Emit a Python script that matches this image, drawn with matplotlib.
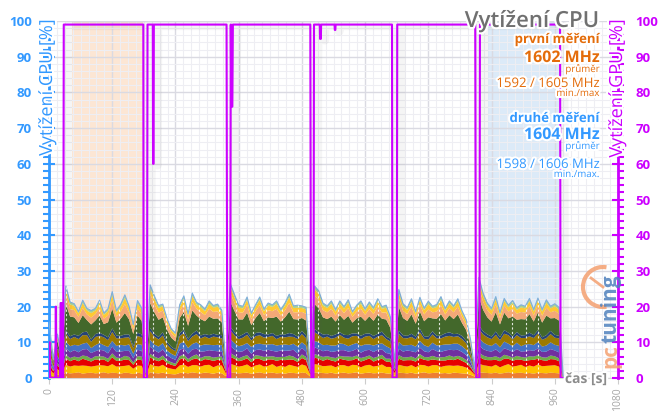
import matplotlib
matplotlib.use('Agg')
import matplotlib.pyplot as plt
import matplotlib.patheffects as pe
from matplotlib.patches import Arc
from matplotlib.lines import Line2D
from matplotlib.transforms import IdentityTransform
import numpy as np

plt.rcParams['font.family'] = ['Open Sans', 'DejaVu Sans']

# CPU samples, one every 8 s
cpu_time = np.arange(0, 1000, 8)

# per-thread CPU load [%], stacked bottom -> top
thread_01 = [1.2, 0.5, 1.0, 0.6,
             1.5, 1.3, 1.4, 1.6, 1.2, 1.4, 1.5, 1.3, 1.4, 1.6, 1.3, 1.5, 1.4, 1.2, 1.5, 1.4, 1.1, 1.5, 1.3,
             0.3,
             1.6, 1.4, 1.3, 1.5, 1.2, 1.1, 1.0, 1.4, 1.5, 1.3, 1.6, 1.4, 1.3, 1.5, 1.4, 1.2, 1.5, 1.3,
             0.5,
             1.6, 1.5, 1.3, 1.4, 1.5, 1.2, 1.4, 1.6, 1.3, 1.4, 1.5, 1.3, 1.4, 1.2, 1.5, 1.4, 1.3, 1.5, 1.4,
             0.4,
             1.6, 1.5, 1.4, 1.3, 1.5, 1.2, 1.4, 1.5, 1.3, 1.4, 1.6, 1.2, 1.4, 1.5, 1.3, 1.4, 1.5, 1.3, 1.2,
             0.6,
             1.5, 1.4, 1.3, 1.5, 1.2, 1.4, 1.6, 1.3, 1.4, 1.5, 1.3, 1.4, 1.2, 1.5, 1.4, 1.3,
             1.2, 0.9, 0.4,
             1.6, 1.5, 1.4, 1.3, 1.5, 1.2, 1.4, 1.6, 1.3, 1.4, 1.5, 1.3, 1.4, 1.2, 1.5, 1.4, 1.3, 1.5, 1.4, 1.3,
             0, 0, 0]
thread_02 = [1.6, 0.8, 1.5, 0.9,
             2.2, 1.9, 2.1, 1.8, 2.3, 2.0, 1.7, 2.1, 2.2, 1.9, 2.0, 2.4, 1.8, 2.1, 1.9, 2.2, 1.5, 2.0, 2.1,
             0.4,
             2.3, 2.0, 1.9, 2.2, 1.7, 1.5, 1.4, 2.1, 2.3, 1.8, 2.0, 2.2, 1.9, 2.1, 2.3, 1.8, 2.0, 2.2,
             0.7,
             2.4, 2.1, 1.9, 2.0, 2.3, 1.8, 2.1, 2.2, 1.9, 2.0, 2.4, 1.8, 2.1, 1.9, 2.2, 2.0, 1.8, 2.3, 2.0,
             0.5,
             2.3, 2.2, 1.9, 2.1, 2.0, 1.8, 2.2, 2.1, 1.9, 2.3, 2.0, 1.8, 2.1, 2.2, 1.9, 2.0, 2.3, 1.8, 1.9,
             0.8,
             2.2, 2.0, 1.9, 2.1, 1.8, 2.3, 2.0, 1.9, 2.2, 2.1, 1.8, 2.0, 2.3, 1.9, 2.1, 2.0,
             1.7, 1.2, 0.5,
             2.4, 2.1, 2.0, 1.9, 2.2, 1.8, 2.1, 2.3, 1.9, 2.0, 2.2, 1.8, 2.1, 2.0, 2.3, 1.9, 2.1, 2.0, 2.2, 1.9,
             0, 0, 0]
thread_03 = [1.3, 0.6, 1.1, 0.7,
             1.8, 1.5, 1.7, 1.3, 1.9, 1.6, 1.4, 1.8, 1.5, 1.7, 1.2, 1.9, 1.6, 1.5, 1.8, 1.4, 1.1, 1.7, 1.6,
             0.2,
             1.9, 1.7, 1.5, 1.6, 1.3, 1.1, 1.0, 1.7, 1.8, 1.4, 1.6, 1.9, 1.5, 1.7, 1.4, 1.8, 1.6, 1.5,
             0.5,
             1.9, 1.8, 1.5, 1.6, 1.7, 1.4, 1.9, 1.5, 1.6, 1.8, 1.3, 1.7, 1.6, 1.9, 1.5, 1.7, 1.4, 1.8, 1.6,
             0.3,
             1.8, 1.7, 1.5, 1.9, 1.4, 1.6, 1.8, 1.5, 1.7, 1.3, 1.9, 1.6, 1.5, 1.8, 1.4, 1.7, 1.6, 1.5, 1.4,
             0.6,
             1.7, 1.5, 1.8, 1.4, 1.6, 1.9, 1.5, 1.7, 1.6, 1.4, 1.8, 1.5, 1.7, 1.6, 1.9, 1.5,
             1.3, 0.9, 0.3,
             2.0, 1.7, 1.6, 1.8, 1.4, 1.7, 1.9, 1.5, 1.6, 1.8, 1.4, 1.7, 1.5, 1.9, 1.6, 1.7, 1.4, 1.8, 1.6, 1.5,
             0, 0, 0]
thread_04 = [0.7, 0.3, 0.6, 0.3,
             1.0, 0.9, 0.8, 1.0, 0.9, 1.1, 0.8, 0.9, 1.0, 0.8, 0.9, 1.1, 0.9, 0.8, 1.0, 0.9, 0.6, 0.9, 1.0,
             0.1,
             1.0, 0.9, 0.8, 1.0, 0.8, 0.7, 0.6, 0.9, 1.0, 0.8, 0.9, 1.1, 0.9, 0.8, 1.0, 0.9, 0.8, 1.0,
             0.2,
             1.1, 0.9, 0.8, 1.0, 0.9, 0.8, 1.0, 0.9, 1.1, 0.8, 0.9, 1.0, 0.8, 0.9, 1.1, 0.9, 0.8, 1.0, 0.9,
             0.1,
             1.0, 0.9, 1.1, 0.8, 0.9, 1.0, 0.8, 0.9, 1.1, 0.9, 0.8, 1.0, 0.9, 0.8, 1.0, 0.9, 1.1, 0.8, 0.9,
             0.2,
             1.0, 0.9, 0.8, 1.0, 0.9, 1.1, 0.8, 0.9, 1.0, 0.8, 0.9, 1.0, 1.1, 0.9, 0.8, 1.0,
             0.8, 0.5, 0.1,
             1.1, 1.0, 0.9, 0.8, 1.0, 0.9, 1.1, 0.8, 0.9, 1.0, 0.8, 0.9, 1.1, 0.9, 1.0, 0.8, 0.9, 1.0, 0.9, 0.8,
             0, 0, 0]
thread_05 = [1.4, 0.4, 1.0, 0.5,
             1.9, 1.6, 1.8, 1.5, 1.7, 2.0, 1.6, 1.4, 1.8, 1.7, 1.5, 1.9, 1.6, 1.8, 1.4, 1.7, 1.2, 1.8, 1.6,
             0.1,
             2.0, 1.8, 1.6, 1.7, 1.4, 1.2, 1.1, 1.8, 1.7, 1.5, 1.9, 1.6, 1.8, 1.4, 1.7, 1.9, 1.6, 1.5,
             0.4,
             2.0, 1.7, 1.8, 1.5, 1.9, 1.6, 1.4, 1.8, 1.7, 1.9, 1.5, 1.6, 1.8, 1.7, 1.4, 1.9, 1.6, 1.8, 1.5,
             0.2,
             1.9, 1.8, 1.6, 1.7, 1.5, 1.9, 1.6, 1.8, 1.4, 1.7, 1.9, 1.5, 1.8, 1.6, 1.7, 1.9, 1.5, 1.6, 1.4,
             0.4,
             1.8, 1.6, 1.9, 1.5, 1.7, 1.8, 1.6, 1.4, 1.9, 1.7, 1.5, 1.8, 1.6, 1.9, 1.7, 1.5,
             1.4, 1.0, 0.2,
             2.1, 1.8, 1.7, 1.6, 1.9, 1.5, 1.8, 1.7, 1.6, 1.9, 1.5, 1.8, 1.7, 1.6, 1.9, 1.5, 1.7, 1.8, 1.6, 1.7,
             0, 0, 0]
thread_06 = [1.5, 0.5, 1.1, 0.5,
             1.8, 1.7, 1.5, 1.9, 1.6, 1.8, 1.4, 1.7, 1.9, 1.5, 1.8, 1.6, 1.7, 1.9, 1.5, 1.8, 1.3, 1.6, 1.7,
             0.1,
             1.9, 1.6, 1.7, 1.8, 1.3, 1.2, 1.1, 1.7, 1.9, 1.6, 1.5, 1.8, 1.7, 1.9, 1.5, 1.6, 1.8, 1.7,
             0.3,
             1.9, 1.8, 1.6, 1.7, 1.5, 1.9, 1.7, 1.6, 1.8, 1.5, 1.9, 1.7, 1.6, 1.8, 1.5, 1.7, 1.9, 1.6, 1.7,
             0.2,
             1.8, 1.9, 1.7, 1.5, 1.8, 1.6, 1.9, 1.7, 1.5, 1.8, 1.6, 1.9, 1.7, 1.5, 1.8, 1.6, 1.7, 1.9, 1.5,
             0.3,
             1.9, 1.7, 1.5, 1.8, 1.6, 1.9, 1.7, 1.5, 1.8, 1.6, 1.9, 1.7, 1.5, 1.8, 1.7, 1.6,
             1.5, 1.1, 0.2,
             2.0, 1.9, 1.7, 1.6, 1.8, 1.5, 1.9, 1.7, 1.6, 1.8, 1.5, 1.9, 1.7, 1.6, 1.8, 1.5, 1.7, 1.9, 1.6, 1.8,
             0, 0, 0]
thread_07 = [2.5, 0.9, 2.0, 1.0,
             2.3, 2.0, 2.2, 1.8, 2.4, 2.1, 1.7, 2.3, 2.0, 2.2, 1.9, 2.5, 2.1, 1.8, 2.2, 2.0, 1.5, 2.3, 2.1,
             0.1,
             2.4, 2.2, 2.0, 2.1, 1.7, 1.4, 1.3, 2.2, 2.4, 1.9, 2.1, 2.3, 2.0, 2.2, 1.8, 2.4, 2.1, 1.9,
             0.4,
             2.5, 2.2, 2.0, 2.1, 2.3, 1.8, 2.2, 2.4, 1.9, 2.1, 2.3, 1.8, 2.2, 2.0, 2.4, 1.9, 2.1, 2.3, 2.0,
             0.3,
             2.4, 2.1, 2.0, 2.3, 1.9, 2.2, 2.4, 1.8, 2.1, 2.3, 2.0, 1.9, 2.2, 2.4, 1.8, 2.1, 2.3, 2.0, 1.9,
             0.5,
             2.3, 2.1, 1.9, 2.2, 2.0, 2.4, 1.8, 2.1, 2.3, 2.0, 1.9, 2.2, 2.4, 1.9, 2.1, 2.0,
             1.8, 1.2, 0.2,
             2.5, 2.2, 2.1, 1.9, 2.3, 2.0, 2.2, 2.4, 1.9, 2.1, 2.3, 1.8, 2.2, 2.0, 2.4, 1.9, 2.1, 2.3, 2.0, 2.1,
             0, 0, 0]
thread_08 = [0.8, 0.3, 0.6, 0.3,
             0.9, 0.8, 0.7, 0.9, 0.8, 1.0, 0.7, 0.8, 0.9, 0.7, 0.8, 1.0, 0.8, 0.7, 0.9, 0.8, 0.6, 0.9, 0.8,
             0.05,
             0.9, 0.8, 0.7, 0.9, 0.7, 0.6, 0.5, 0.8, 0.9, 0.7, 0.8, 1.0, 0.8, 0.7, 0.9, 0.8, 0.7, 0.9,
             0.1,
             1.0, 0.8, 0.7, 0.9, 0.8, 0.7, 0.9, 0.8, 1.0, 0.7, 0.8, 0.9, 0.7, 0.8, 1.0, 0.8, 0.7, 0.9, 0.8,
             0.1,
             0.9, 0.8, 1.0, 0.7, 0.8, 0.9, 0.7, 0.8, 1.0, 0.8, 0.7, 0.9, 0.8, 0.7, 0.9, 0.8, 1.0, 0.7, 0.8,
             0.1,
             0.9, 0.8, 0.7, 0.9, 0.8, 1.0, 0.7, 0.8, 0.9, 0.7, 0.8, 0.9, 1.0, 0.8, 0.7, 0.9,
             0.7, 0.5, 0.05,
             1.0, 0.9, 0.8, 0.7, 0.9, 0.8, 1.0, 0.7, 0.8, 0.9, 0.7, 0.8, 1.0, 0.8, 0.9, 0.7, 0.8, 0.9, 0.8, 0.7,
             0, 0, 0]
thread_09 = [2.0, 0.5, 1.5, 0.6,
             7.5, 5.5, 4.8, 3.6, 4.8, 3.2, 4.2, 3.8, 4.8, 3.0, 4.2, 5.5, 3.6, 4.8, 6.0, 4.2, 3.4, 4.8, 3.8,
             0.1,
             7.0, 6.0, 4.8, 4.2, 3.5, 2.5, 2.2, 4.2, 5.0, 3.6, 6.5, 4.2, 4.6, 3.6, 5.2, 4.2, 4.6, 3.6,
             0.3,
             7.0, 6.0, 4.8, 4.2, 5.4, 3.6, 4.2, 5.4, 3.6, 4.8, 4.2, 5.4, 3.6, 4.8, 6.0, 4.2, 4.8, 3.6, 4.2,
             0.2,
             7.0, 6.6, 4.8, 4.2, 5.4, 3.6, 4.8, 4.2, 5.4, 3.0, 4.2, 5.4, 3.6, 4.8, 4.2, 5.4, 3.6, 4.8, 3.0,
             0.5,
             6.6, 4.8, 4.2, 5.4, 3.6, 4.8, 4.2, 5.4, 3.6, 4.8, 6.0, 3.6, 4.8, 4.2, 5.4, 3.6,
             3.0, 1.8, 0.3,
             8.0, 6.0, 4.8, 4.2, 5.4, 3.6, 4.9, 4.0, 5.6, 3.4, 4.6, 4.4, 5.2, 3.8, 5.0, 4.1, 5.5, 3.5, 4.7, 4.3,
             0, 0, 0]
thread_10 = [1.5, 0.3, 1.0, 0.4,
             2.4, 2.1, 2.0, 1.7, 2.0, 1.6, 1.9, 1.8, 2.1, 1.5, 1.9, 2.3, 1.7, 2.0, 2.5, 1.9, 1.3, 2.0, 1.8,
             0.05,
             2.5, 2.3, 2.0, 1.9, 1.6, 1.3, 1.2, 1.9, 2.2, 1.7, 2.4, 1.9, 2.0, 1.7, 2.2, 1.9, 2.0, 1.7,
             0.2,
             2.5, 2.3, 2.0, 1.9, 2.2, 1.7, 1.9, 2.2, 1.7, 2.0, 1.9, 2.2, 1.7, 2.0, 2.4, 1.9, 2.0, 1.7, 1.9,
             0.1,
             2.5, 2.4, 2.0, 1.9, 2.2, 1.7, 2.0, 1.9, 2.2, 1.6, 1.9, 2.2, 1.7, 2.0, 1.9, 2.2, 1.7, 2.0, 1.6,
             0.3,
             2.4, 2.0, 1.9, 2.2, 1.7, 2.0, 1.9, 2.2, 1.7, 2.0, 2.4, 1.7, 2.0, 1.9, 2.2, 1.7,
             1.4, 0.9, 0.2,
             2.7, 2.3, 2.0, 1.9, 2.2, 1.7, 2.0, 1.9, 2.2, 1.7, 2.0, 1.9, 2.2, 1.7, 2.0, 1.9, 2.2, 1.7, 2.0, 1.9,
             0, 0, 0]
thread_11 = [0.8, 0.2, 0.6, 0.2,
             1.6, 1.3, 1.2, 1.0, 1.4, 1.1, 1.3, 1.0, 1.4, 1.1, 1.2, 1.6, 1.1, 1.3, 1.7, 1.2, 0.9, 1.4, 1.2,
             0.05,
             1.7, 1.5, 1.3, 1.2, 1.0, 0.8, 0.8, 1.2, 1.5, 1.1, 1.6, 1.2, 1.3, 1.1, 1.4, 1.2, 1.3, 1.1,
             0.1,
             1.7, 1.5, 1.3, 1.2, 1.4, 1.1, 1.2, 1.5, 1.1, 1.3, 1.2, 1.4, 1.1, 1.3, 1.6, 1.2, 1.3, 1.1, 1.2,
             0.05,
             1.7, 1.6, 1.3, 1.2, 1.4, 1.1, 1.3, 1.2, 1.5, 1.0, 1.2, 1.4, 1.1, 1.3, 1.2, 1.4, 1.1, 1.3, 1.0,
             0.2,
             1.6, 1.3, 1.2, 1.4, 1.1, 1.3, 1.2, 1.5, 1.1, 1.3, 1.6, 1.1, 1.3, 1.2, 1.4, 1.1,
             1.0, 0.6, 0.1,
             1.8, 1.5, 1.3, 1.2, 1.4, 1.1, 1.3, 1.2, 1.5, 1.1, 1.3, 1.2, 1.4, 1.1, 1.3, 1.2, 1.4, 1.1, 1.3, 1.2,
             0, 0, 0]
thread_12 = [0.4, 0.1, 0.3, 0.1,
             0.9, 0.7, 0.6, 0.5, 0.8, 0.6, 0.7, 0.6, 0.8, 0.5, 0.7, 0.9, 0.6, 0.7, 0.9, 0.6, 0.5, 0.8, 0.6,
             0.02,
             0.9, 0.8, 0.7, 0.6, 0.5, 0.4, 0.4, 0.6, 0.8, 0.6, 0.9, 0.6, 0.7, 0.6, 0.8, 0.6, 0.7, 0.6,
             0.05,
             0.9, 0.8, 0.7, 0.6, 0.8, 0.6, 0.6, 0.8, 0.6, 0.7, 0.6, 0.8, 0.6, 0.7, 0.9, 0.6, 0.7, 0.6, 0.6,
             0.02,
             0.9, 0.9, 0.7, 0.6, 0.8, 0.6, 0.7, 0.6, 0.8, 0.5, 0.6, 0.8, 0.6, 0.7, 0.6, 0.8, 0.6, 0.7, 0.5,
             0.1,
             0.9, 0.7, 0.6, 0.8, 0.6, 0.7, 0.6, 0.8, 0.6, 0.7, 0.9, 0.6, 0.7, 0.6, 0.8, 0.6,
             0.5, 0.3, 0.05,
             1.0, 0.8, 0.7, 0.6, 0.8, 0.6, 0.7, 0.6, 0.8, 0.6, 0.7, 0.6, 0.8, 0.6, 0.7, 0.6, 0.8, 0.6, 0.7, 0.6,
             0, 0, 0]

threads = [thread_01, thread_02, thread_03, thread_04, thread_05, thread_06,
           thread_07, thread_08, thread_09, thread_10, thread_11, thread_12]
thread_colors = ['#ED7D31', '#FFC000', '#E60000', '#70AD47', '#7030A0', '#4472C4',
                 '#9C7A00', '#264478', '#43682B', '#F4A877', '#FFC933', '#A9D18E']

# moments where the logger dropped a sample (white dashes in the stack)
gap_times = [32, 95, 133, 165, 197, 223, 254, 285, 323, 355, 387, 412, 443, 473,
             511, 549, 587, 625, 701, 740, 793, 878, 906, 928]

# GPU load [%]
gpu_time = [0, 1, 2, 12, 13, 14, 21, 22, 24, 25, 27, 28, 179, 179.5, 180, 186, 187,
            197, 197.5, 198.5, 199, 337, 338, 339, 344, 345, 346, 348, 349, 496, 497,
            498, 502, 503, 514, 514.5, 516, 516.5, 542, 542.5, 543.5, 544, 651, 652,
            660, 661, 809, 810, 811, 817, 818, 970, 971, 975]
gpu_load = [0, 10, 0, 0, 20, 0, 0, 21, 21, 0, 0, 99, 99, 18, 0, 0, 99,
            99, 60, 60, 99, 99, 27, 0, 0, 99, 76, 76, 99, 99, 22,
            0, 0, 99, 99, 95, 95, 99, 99, 97.5, 97.5, 99, 99, 0,
            0, 99, 99, 25, 0, 0, 99, 99, 0, 0]

first_run = (44, 178)
second_run = (833, 968)

for s in threads:
    assert len(s) == len(cpu_time), len(s)

CPU_BLUE = '#3399FF'
GPU_MAG = '#CC00FF'
ORANGE = '#E46C0A'
glow = [pe.withStroke(linewidth=3, foreground='white')]

fig = plt.figure(figsize=(6.59, 4.18), dpi=100)
W, H = 659, 418
ax = fig.add_axes([49 / W, 40 / H, 569 / W, 357 / H])
ax.set_axisbelow(True)

ax.axvspan(*first_run, color='#FCE6D4', lw=0, zorder=0.2)
ax.axvspan(*second_run, color='#DCEAF8', lw=0, zorder=0.2)

ax.stackplot(cpu_time, *threads, colors=thread_colors, linewidth=0, zorder=2)
total = np.sum(np.array(threads), axis=0)
ax.plot(cpu_time, total, color='#7FAEDC', lw=0.8, zorder=3)
gap_tops = np.interp(gap_times, cpu_time, total)
ax.vlines(gap_times, 0, gap_tops, colors='white', linestyles=(0, (2, 2)), lw=0.8,
          alpha=0.85, zorder=3)

ax.set_xlim(0, 1080)
ax.set_ylim(0, 100)
ax.set_xticks(np.arange(0, 1081, 120))
ax.set_xticks(np.arange(0, 1081, 15), minor=True)
ax.set_yticks(np.arange(0, 101, 10))
ax.set_yticks(np.arange(0, 101, 2), minor=True)
ax.grid(which='major', color='#DADAE2', lw=1.0)
ax.grid(which='minor', color='#EEEEF3', lw=0.8)

for side in ['top', 'right']:
    ax.spines[side].set_visible(False)
ax.spines['bottom'].set_color('#D5D5D5')
ax.spines['left'].set_color(CPU_BLUE)
ax.spines['left'].set_linewidth(2)

ax.tick_params(axis='x', which='major', length=4, color='#CCCCCC', labelcolor='#A6A6A6',
               labelsize=7.5, labelrotation=90, pad=3)
ax.tick_params(axis='x', which='minor', length=0)
ax.tick_params(axis='y', which='major', direction='inout', length=9, width=1.5,
               colors=CPU_BLUE, labelsize=9.5, pad=8)
ax.tick_params(axis='y', which='minor', direction='out', length=4.5, width=1.5, colors=CPU_BLUE)
for lbl in ax.get_yticklabels():
    lbl.set_fontweight('bold')

ax2 = ax.twinx()
ax2.set_ylim(0, 100)
ax2.plot(gpu_time, gpu_load, color=GPU_MAG, lw=1.5, zorder=4,
         path_effects=[pe.SimpleLineShadow(offset=(3, -1), shadow_color='#555555', alpha=0.06, linewidth=6),
                       pe.Normal()])
for side in ['top', 'left', 'bottom']:
    ax2.spines[side].set_visible(False)
ax2.spines['right'].set_color(GPU_MAG)
ax2.spines['right'].set_linewidth(2)
ax2.set_yticks(np.arange(0, 101, 10))
ax2.set_yticks(np.arange(0, 101, 2), minor=True)
ax2.tick_params(axis='y', which='major', direction='inout', length=9, width=1.5,
                colors=GPU_MAG, labelsize=9.5, pad=8)
ax2.tick_params(axis='y', which='minor', direction='out', length=4.5, width=1.5, colors=GPU_MAG)
for lbl in ax2.get_yticklabels():
    lbl.set_fontweight('bold')

# axis titles sit right on the spines
fig.text(47 / W, 1 - 20 / H, 'Vytížení CPU [%]', rotation=90, ha='center', va='top',
         fontsize=13, color=CPU_BLUE, path_effects=glow)
fig.text(617 / W, 1 - 20 / H, 'Vytížení GPU [%]', rotation=90, ha='center', va='top',
         fontsize=13, color=GPU_MAG, path_effects=glow)
fig.text(586 / W, 1 - 379 / H, 'čas [s]', ha='center', va='center', fontsize=10,
         color='#8C8C8C', fontweight='bold', path_effects=glow)

# title and clock summary
xr = 600 / W
fig.text(xr, 1 - 27 / H, 'Vytížení CPU', ha='right', va='baseline', fontsize=16,
         fontweight='semibold', color='#707070', path_effects=glow)
notes = [
    ('první měření', 43, 9.5, 'bold', ORANGE),
    ('1602 MHz', 62, 11.5, 'bold', ORANGE),
    ('průměr', 72, 7, 'normal', ORANGE),
    ('1592 / 1605 MHz', 87, 9.5, 'normal', ORANGE),
    ('min./max', 96, 7, 'normal', ORANGE),
    ('druhé měření', 122, 9.5, 'bold', CPU_BLUE),
    ('1604 MHz', 139, 11.5, 'bold', CPU_BLUE),
    ('průměr', 149, 7, 'normal', CPU_BLUE),
    ('1598 / 1606 MHz', 168, 9.5, 'normal', CPU_BLUE),
    ('min./max.', 177, 7, 'normal', CPU_BLUE),
]
for txt, yb, size, weight, col in notes:
    fig.text(xr, 1 - yb / H, txt, ha='right', va='baseline', fontsize=size,
             fontweight=weight, color=col, path_effects=glow)

# pctuning watermark
fig.text(611 / W, 1 - 368 / H, 'pc', rotation=90, ha='center', va='bottom', fontsize=15,
         fontweight='bold', color='#F4A070', alpha=0.85)
fig.text(611 / W, 1 - 343 / H, 'tuning', rotation=90, ha='center', va='bottom', fontsize=15,
         fontweight='bold', color='#4F81BD', alpha=0.85)
fig.add_artist(Arc((603, H - 287), 40, 40, theta1=80, theta2=280, color='#F4A070', lw=3,
                   alpha=0.85, transform=IdentityTransform()))
fig.add_artist(Line2D([603, 591], [H - 287, H - 278], color='#F4A070', lw=2, alpha=0.85,
                      transform=IdentityTransform()))

fig.savefig('out.png', dpi=100)
